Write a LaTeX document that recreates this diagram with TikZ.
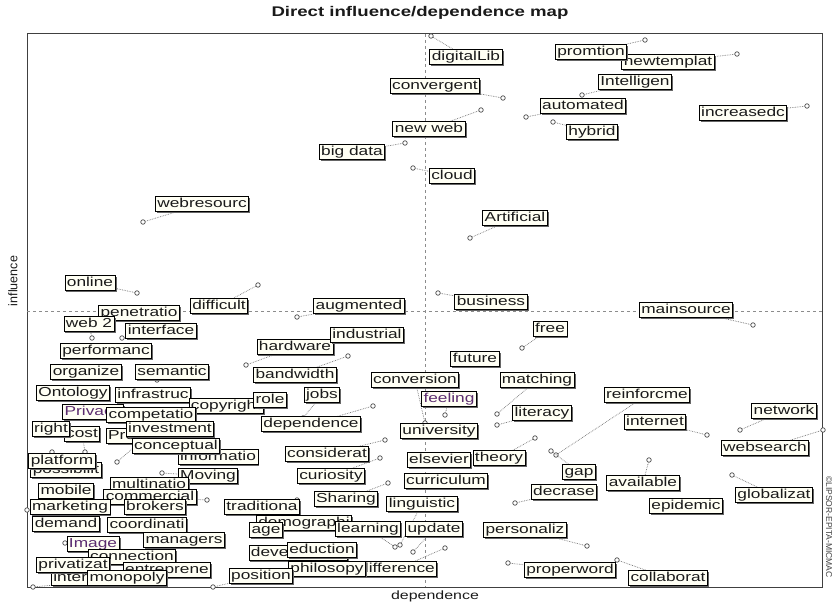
\documentclass[tikz,border=0pt]{standalone}
\usepackage{fontspec}
\usetikzlibrary{shadows,backgrounds}
\newfontfamily\boxfont[FakeStretch=1.33]{Liberation Sans}
\newfontfamily\axisfont{Liberation Sans}
\definecolor{ink}{HTML}{1A1A1A}
\definecolor{plum}{HTML}{5B2C6F}
\definecolor{boxfill}{HTML}{FFFFF4}

\begin{document}
\begin{tikzpicture}[x=1pt,y=-1pt,
    varbox/.style={draw=black,line width=0.8pt,fill=boxfill,inner xsep=2pt,inner ysep=1.3pt,
      text height=9.4pt,text depth=2.6pt,font=\boxfont\fontsize{13}{15}\selectfont,
      drop shadow={shadow xshift=1.5pt,shadow yshift=-1.5pt,fill=black!60,opacity=1}},
    varpt/.style={circle,draw=black!70,fill=white,line width=0.7pt,inner sep=0pt,minimum size=4.5pt},
    leader/.style={black!55,densely dotted,line width=0.7pt}]
  \useasboundingbox (0,0) rectangle (833,604);

  % Title and axis names
  \node[font=\boxfont\bfseries\fontsize{14}{16}\selectfont,text=ink] (title) at (420,13) {Direct influence/dependence map};
  \node[font=\axisfont\fontsize{12.5}{14}\selectfont,text=ink,rotate=90] (infl) at (13,281) {influence};
  \node[font=\boxfont\fontsize{12}{14}\selectfont,text=ink] (dep) at (435,596) {dependence};
  \node[font=\axisfont\fontsize{8.5}{10}\selectfont,text=black!75,rotate=-90] (copy) at (829,527) {\textcopyright LIPSOR-EPITA-MICMAC};

  % Variables (later ones sit on top)
  \foreach \nm/\x/\y/\txt/\col in {
      digitalLib/466/57/digitalLib/ink, newtemplat/668/62/newtemplat/ink,
      promtion/591/52/promtion/ink, convergent/435/86/convergent/ink,
      Intelligen/635/82/Intelligen/ink, automated/583/106/automated/ink,
      hybrid/592/132/hybrid/ink, increasedc/743/113/increasedc/ink,
      newweb/429/129/new web/ink, bigdata/352/152/big data/ink,
      cloud/452/176/cloud/ink, webresourc/202/204/webresourc/ink,
      Artificial/515/218/Artificial/ink, online/90/283/online/ink,
      difficult/219/306/difficult/ink, augmented/359/306/augmented/ink,
      business/491/302/business/ink, mainsource/686/310/mainsource/ink,
      penetratio/139/313/penetratio/ink, webtwo/89/324/web 2/ink,
      interface/161/331/interface/ink, free/550/329/free/ink,
      performanc/106/351/performanc/ink, hardware/295/347/hardware/ink,
      industrial/367/335/industrial/ink, future/475/359/future/ink,
      organize/86/372/organize/ink, semantic/172/372/semantic/ink,
      bandwidth/295/375/bandwidth/ink, conversion/415/380/conversion/ink,
      matching/537/380/matching/ink, Ontology/73/393/Ontology/ink,
      infrastruc/153/395/infrastruc/ink, copyright/226/406/copyright/ink,
      role/270/400/role/ink, jobs/322/395/jobs/ink,
      feeling/449/399/feeling/plum, reinforcme/647/395/reinforcme/ink,
      Privacy/93/412/Privacy/plum, competatio/151/415/competatio/ink,
      literacy/542/413/literacy/ink, network/784/411/network/ink,
      dependence/311/424/dependence/ink, internet/655/422/internet/ink,
      cost/82/434/cost/ink, right/51/429/right/ink,
      Preservati/147/436/Preservati/ink, investment/170/429/investment/ink,
      university/439/431/university/ink, websearch/765/448/websearch/ink,
      informatio/218/457/informatio/ink, conceptual/176/446/conceptual/ink,
      considerat/327/454/considerat/ink, elsevier/439/460/elsevier/ink,
      theory/499/458/theory/ink, possibilit/66/470/possibilit/ink,
      platform/62/461/platform/ink, gap/579/472/gap/ink,
      curriculum/446/481/curriculum/ink, Moving/208/476/Moving/ink,
      curiosity/331/476/curiosity/ink, available/643/483/available/ink,
      multinatio/149/485/multinatio/ink, mobile/66/491/mobile/ink,
      decrase/564/492/decrase/ink, globalizat/774/495/globalizat/ink,
      commercial/150/497/commercial/ink, Sharing/346/499/Sharing/ink,
      linguistic/422/504/linguistic/ink, epidemic/686/506/epidemic/ink,
      traditiona/262/507/traditiona/ink, marketing/70/507/marketing/ink,
      brokers/155/507/brokers/ink, demand/66/524/demand/ink,
      coordinati/147/525/coordinati/ink, demographi/304/523/demographi/ink,
      age/266/530/age/ink, learning/368/529/learning/ink,
      update/434/529/update/ink, personaliz/525/530/personaliz/ink,
      Image/93/544/Image/plum, managers/184/540/managers/ink,
      developmen/298/553/developmen/ink, eduction/322/550/eduction/ink,
      connection/132/557/connection/ink, difference/397/569/difference/ink,
      philosopy/327/569/philosopy/ink, interactiv/88/578/interactiv/ink,
      privatizat/73/565/privatizat/ink, entreprene/167/570/entreprene/ink,
      monopoly/127/578/monopoly/ink, position/261/576/position/ink,
      properword/570/570/properword/ink, collaborat/668/578/collaborat/ink}
    \node[varbox,text=\col] (\nm) at (\x,\y) {\txt};

  \begin{scope}[on background layer]
    \fill[white] (0,0) rectangle (833,604);
    % Frame and axes
    \draw[black!75,line width=1pt] (27,34) rectangle (822,587);
    \draw[black!45,dashed,line width=0.5pt] (27,311) -- (822,311);
    \draw[black!45,dashed,line width=0.5pt] (425,34) -- (425,587);
    % Points and leaders
    \foreach \nm/\x/\y in {
        digitalLib/431/36, promtion/645/40, newtemplat/737/54, convergent/503/98,
        Intelligen/582/95, automated/526/117, hybrid/553/122, increasedc/807/106,
        newweb/481/110, bigdata/405/143, cloud/413/168, webresourc/143/222,
        Artificial/470/238, online/137/293, difficult/258/285, augmented/297/317,
        business/438/293, mainsource/753/325, free/522/348, hardware/246/365,
        bandwidth/348/356, dependence/373/406, jobs/303/418, webtwo/92/338,
        interface/122/338, semantic/157/380, conversion/425/423, feeling/445/415,
        matching/497/414, literacy/497/425, considerat/385/440, curiosity/380/458,
        Sharing/388/483, theory/535/438, reinforcme/556/455, gap/551/451,
        internet/707/435, network/740/430, websearch/823/430, available/649/460,
        decrase/515/503, globalizat/732/475, personaliz/587/546, properword/508/563,
        collaborat/617/560, position/213/587, monopoly/33/587, marketing/27/510,
        platform/52/452, cost/85/452, Preservati/117/462, traditiona/297/500,
        commercial/207/500, Moving/162/473, Image/65/543, learning/395/547,
        linguistic/400/545, update/413/552, difference/445/548} {
      \node[varpt] (p\nm) at (\x,\y) {};
      \draw[leader] (p\nm) -- (\nm);
    }
  \end{scope}
\end{tikzpicture}
\end{document}
